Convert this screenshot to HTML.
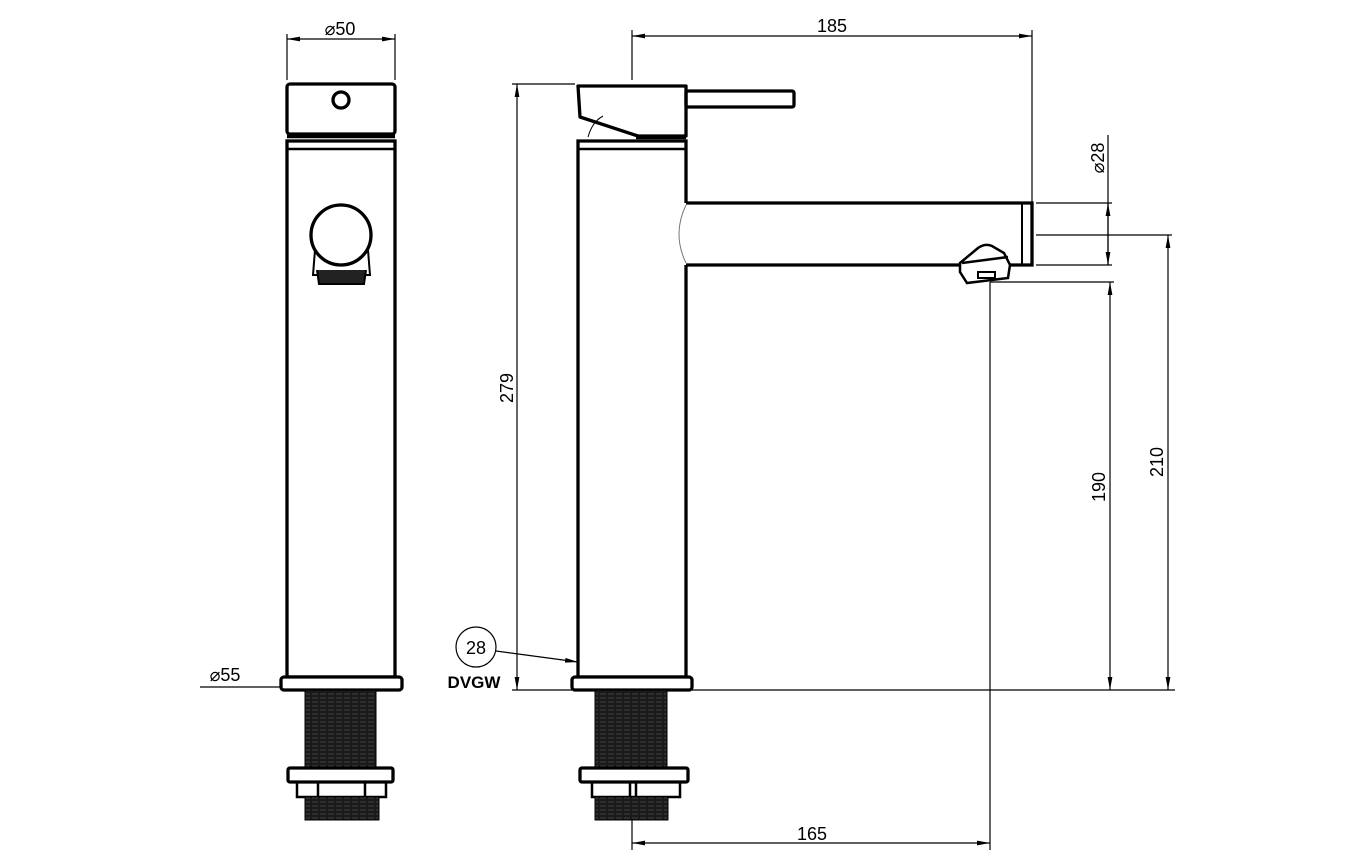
<!DOCTYPE html>
<html><head><meta charset="utf-8"><style>body{margin:0;background:#fff}svg{display:block}text{font-family:"Liberation Sans",sans-serif;font-size:18px;fill:#000}</style></head><body>
<svg width="1372" height="864" viewBox="0 0 1372 864" xmlns="http://www.w3.org/2000/svg">
<defs>
<pattern id="thr" width="8" height="4" patternUnits="userSpaceOnUse"><rect width="8" height="4" fill="#1a1a1a"/><line x1="0" y1="2" x2="6" y2="2" stroke="#555" stroke-width="0.7"/></pattern>
<marker id="a" viewBox="0 0 12 12" refX="12" refY="6" markerWidth="13" markerHeight="13" orient="auto-start-reverse" markerUnits="userSpaceOnUse"><path d="M0,3.8 L12,6 L0,8.2 z" fill="#000"/></marker>
</defs>
<g fill="none" stroke="#000" stroke-width="1.2">
<line x1="287" y1="34" x2="287" y2="80"/><line x1="395" y1="34" x2="395" y2="80"/>
<line x1="287" y1="39" x2="395" y2="39" marker-start="url(#a)" marker-end="url(#a)"/>
<line x1="200" y1="687" x2="282" y2="687"/>
<line x1="287" y1="687" x2="395" y2="687" marker-start="url(#a)" marker-end="url(#a)"/>
<line x1="632" y1="30" x2="632" y2="80"/><line x1="1032" y1="30" x2="1032" y2="203"/>
<line x1="632" y1="36" x2="1032" y2="36" marker-start="url(#a)" marker-end="url(#a)"/>
<line x1="512" y1="84" x2="575" y2="84"/><line x1="512" y1="690" x2="572" y2="690"/><line x1="692" y1="690" x2="1175" y2="690"/>
<line x1="517" y1="84" x2="517" y2="690" marker-start="url(#a)" marker-end="url(#a)"/>
<line x1="1036" y1="203" x2="1112" y2="203"/><line x1="1036" y1="265" x2="1112" y2="265"/>
<line x1="1108" y1="135" x2="1108" y2="265"/>
<line x1="1108" y1="203" x2="1108" y2="265" marker-start="url(#a)" marker-end="url(#a)"/>
<line x1="1036" y1="235" x2="1172" y2="235"/>
<line x1="1168" y1="235" x2="1168" y2="690" marker-start="url(#a)" marker-end="url(#a)"/>
<line x1="990" y1="282" x2="1114" y2="282"/>
<line x1="1110" y1="282" x2="1110" y2="690" marker-start="url(#a)" marker-end="url(#a)"/>
<line x1="990" y1="282" x2="990" y2="850"/><line x1="632" y1="800" x2="632" y2="850"/>
<line x1="632" y1="843" x2="990" y2="843" marker-start="url(#a)" marker-end="url(#a)"/>
<circle cx="476" cy="647" r="20"/>
<line x1="496" y1="651" x2="578" y2="662" marker-end="url(#a)"/>
</g>
<g fill="none" stroke="#000" stroke-width="3.3">
<rect x="287" y="84" width="108" height="50" rx="3"/>
<line x1="287" y1="136" x2="395" y2="136" stroke-width="4.5"/>
<rect x="287" y="141" width="108" height="536"/>
<line x1="287" y1="149" x2="395" y2="149" stroke-width="2.5"/>
<circle cx="341" cy="100" r="8"/>
<path d="M315,250 L313,275 L370,275 L368,250" stroke-width="2"/>
<path d="M317,270 L319,284 L364,284 L366,270" stroke-width="2" fill="#222"/>
<circle cx="341" cy="235" r="30" fill="#fff"/>
<rect x="281" y="677" width="121" height="13" rx="3" fill="#fff"/>
<rect x="305" y="690" width="71" height="78" fill="url(#thr)" stroke-width="1"/>
<rect x="288" y="768" width="105" height="14" rx="2" fill="#fff"/>
<path d="M297,782 L297,797 L386,797 L386,782 M318,782 L318,797 M365,782 L365,797" stroke-width="2.5"/>
<rect x="305" y="797" width="74" height="23" fill="url(#thr)" stroke-width="1"/>
<path d="M578,86 L686,86 L686,136 L638,136 L580,117 Z" stroke-linejoin="round"/>
<path d="M588,137 Q592,122 603,116" stroke-width="1"/>
<line x1="636" y1="137" x2="686" y2="137" stroke-width="4.5"/>
<rect x="686" y="91" width="108" height="16" rx="2"/>
<path d="M686,203 L686,141 L578,141 L578,677 L686,677 L686,265"/>
<line x1="578" y1="149" x2="686" y2="149" stroke-width="2.5"/>
<path d="M686,203 L1032,203 L1032,265 L686,265" />
<line x1="1022" y1="204" x2="1022" y2="264" stroke-width="2"/>
<path d="M686,205 Q672,234 686,263" stroke-width="1" stroke="#777"/>
<path d="M960,263 L978,248 Q985,243 992,246 L1004,253 L1010,265 L1008,278 L967,283 L960,272 Z" fill="#fff" stroke-width="2.5"/>
<line x1="962" y1="263" x2="1008" y2="257" stroke-width="2.5"/>
<rect x="978" y="272" width="17" height="6" stroke-width="2"/>
<rect x="572" y="677" width="120" height="13" rx="3" fill="#fff"/>
<rect x="595" y="690" width="72" height="78" fill="url(#thr)" stroke-width="1"/>
<rect x="580" y="768" width="108" height="14" rx="2" fill="#fff"/>
<path d="M592,782 L592,797 L680,797 L680,782 M630,782 L630,797 M636,782 L636,797" stroke-width="2.5"/>
<rect x="595" y="797" width="73" height="23" fill="url(#thr)" stroke-width="1"/>
</g>
<text x="340" y="35" text-anchor="middle">⌀50</text>
<text x="225" y="681" text-anchor="middle">⌀55</text>
<text x="832" y="32" text-anchor="middle">185</text>
<text x="812" y="840" text-anchor="middle">165</text>
<text x="476" y="654" text-anchor="middle">28</text>
<text x="474" y="688" text-anchor="middle" font-weight="bold" style="font-size:17px">DVGW</text>
<text transform="translate(513,388) rotate(-90)" text-anchor="middle">279</text>
<text transform="translate(1104,158) rotate(-90)" text-anchor="middle">⌀28</text>
<text transform="translate(1105,487) rotate(-90)" text-anchor="middle">190</text>
<text transform="translate(1163,462) rotate(-90)" text-anchor="middle">210</text>
</svg>
</body></html>
